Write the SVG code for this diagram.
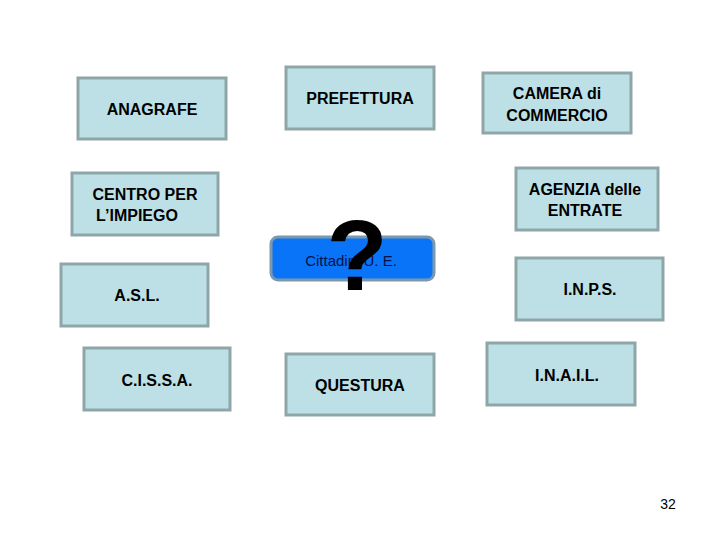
<svg xmlns="http://www.w3.org/2000/svg" width="720" height="540" viewBox="0 0 720 540">
<style>
.b{fill:#bde0e6;stroke:#8fa6a8;stroke-width:3}
.t{font-family:"Liberation Sans",Arial,sans-serif;font-weight:bold;font-size:16px;fill:#000;text-anchor:middle}
</style>
<rect width="720" height="540" fill="#fff"/>
<g id="anagrafe"><rect class="b" x="78" y="78" width="148" height="61"/><text class="t" x="152" y="115">ANAGRAFE</text></g>
<g id="prefettura"><rect class="b" x="286" y="67" width="148" height="62"/><text class="t" x="360" y="104">PREFETTURA</text></g>
<g id="camera"><rect class="b" x="483" y="73" width="148" height="60"/><text class="t" x="557" y="99">CAMERA di</text><text class="t" x="557" y="121">COMMERCIO</text></g>
<g id="centro"><rect class="b" x="72" y="173" width="146" height="62"/><text class="t" x="145" y="200">CENTRO PER</text><text class="t" x="137" y="221">L’IMPIEGO</text></g>
<g id="agenzia"><rect class="b" x="516" y="168" width="142" height="62"/><text class="t" x="585" y="195">AGENZIA delle</text><text class="t" x="585" y="216">ENTRATE</text></g>
<g id="asl"><rect class="b" x="61" y="264" width="147" height="62"/><text class="t" x="137" y="301">A.S.L.</text></g>
<g id="inps"><rect class="b" x="516" y="258" width="147" height="62"/><text class="t" x="590" y="295">I.N.P.S.</text></g>
<g id="cissa"><rect class="b" x="84" y="348" width="146" height="62"/><text class="t" x="157" y="386">C.I.S.S.A.</text></g>
<g id="questura"><rect class="b" x="286" y="354" width="148" height="61"/><text class="t" x="360" y="391">QUESTURA</text></g>
<g id="inail"><rect class="b" x="487" y="343" width="148" height="62"/><text class="t" x="567" y="381">I.N.A.I.L.</text></g>
<g id="cittadini"><rect x="271" y="237" width="163" height="43" rx="7" fill="#0a74f8" stroke="#7c98ac" stroke-width="3"/><text x="351" y="266" font-family="Liberation Sans,Arial,sans-serif" font-size="15" fill="#06124a" text-anchor="middle">Cittadini U. E.</text></g>
<text x="357" y="290" font-family="Liberation Sans,Arial,sans-serif" font-size="100" font-weight="bold" fill="#000" text-anchor="middle">?</text>
<g id="connectors"/>
<text x="668" y="509" font-family="Liberation Sans,Arial,sans-serif" font-size="14" fill="#000" text-anchor="middle">32</text>
</svg>
